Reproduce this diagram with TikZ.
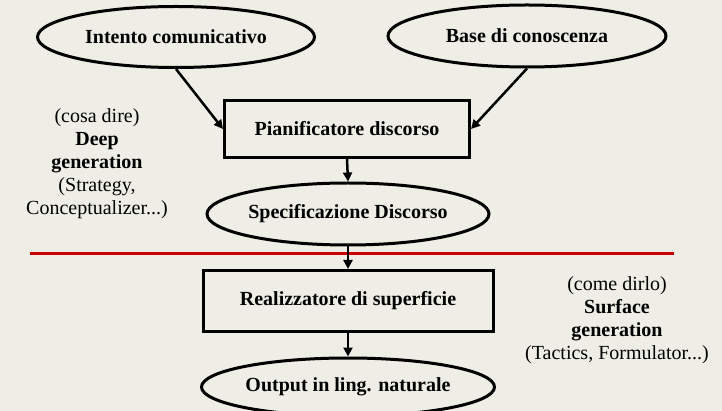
\documentclass[tikz,border=0pt]{standalone}
\usepackage{fontspec}
\setmainfont{Liberation Serif}
\usetikzlibrary{shapes.geometric,arrows.meta}
\definecolor{paper}{RGB}{238,238,230}
\definecolor{divider}{RGB}{204,0,0}
\tikzset{
  base/.style={font=\fontsize{20}{23}\selectfont\bfseries, inner sep=0pt},
  oval/.style={base, draw, ellipse, line width=3pt},
  stepbox/.style={base, draw, rectangle, line width=3pt},
  flow/.style={line width=2.5pt, -{Triangle[length=9pt,width=9pt]}},
  note/.style={font=\fontsize{20}{23}\selectfont, align=center, inner sep=0pt},
}
\begin{document}
\begin{tikzpicture}[x=1pt,y=-1pt]
  \fill[paper] (0,0) rectangle (722,411);
  \useasboundingbox (0,0) rectangle (722,411);
  \clip (0,0) rectangle (722,411);

  % sources
  \node[oval, minimum width=277pt, minimum height=61pt] (intent) at (176,37) {Intento comunicativo};
  \node[oval, minimum width=278pt, minimum height=62pt] (kb) at (527,36) {Base di conoscenza};

  % deep generation
  \node[stepbox, minimum width=245pt, minimum height=57pt] (planner) at (347,129) {Pianificatore discorso};
  \node[oval, minimum width=278pt, minimum height=62pt] (spec) at (348,214) {Specificazione Discorso};

  % boundary between the two stages
  \draw[divider, line width=3pt] (30,254) -- (674,254);

  % surface generation
  \node[stepbox, minimum width=290pt, minimum height=61pt] (realizer) at (348,301) {Realizzatore di superficie};
  \node[oval, minimum width=293pt, minimum height=58pt] (output) at (348,387) {Output in ling. naturale};

  % side notes
  \node[note] (deep) at (97,164) {(cosa dire)\\\textbf{Deep}\\\textbf{generation}\\(Strategy,\\Conceptualizer...)};
  \node[note] (surface) at (617,320) {(come dirlo)\\\textbf{Surface}\\\textbf{generation}\\(Tactics, Formulator...)};

  % connectors
  \draw[flow] (intent.south) -- (planner.west);
  \draw[flow] (kb.south) -- (planner.east);
  \draw[flow] (planner.south) -- (spec.north);
  \draw[flow] (spec.south) -- (realizer.north);
  \draw[flow] (realizer.south) -- (output.north);
\end{tikzpicture}
\end{document}
